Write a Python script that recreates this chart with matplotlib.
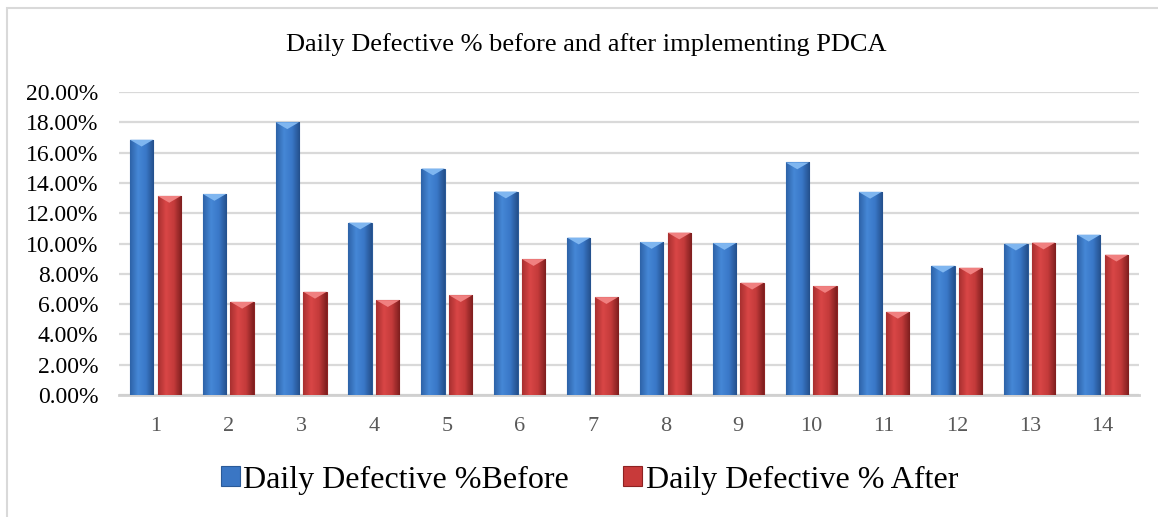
import numpy as np
import matplotlib
matplotlib.use("Agg")
import matplotlib.pyplot as plt
from matplotlib.patches import Rectangle
from matplotlib.colors import LinearSegmentedColormap
from matplotlib.ticker import FuncFormatter, MultipleLocator

plt.rcParams['font.family'] = ['Liberation Serif', 'DejaVu Serif']

# data (fractions)
days = [str(i) for i in range(1, 15)]
before = [0.1685, 0.1327, 0.1800, 0.1138, 0.1495, 0.1343, 0.1039, 0.1010,
          0.1003, 0.1535, 0.1341, 0.0853, 0.0999, 0.1058]
after = [0.1314, 0.0615, 0.0681, 0.0626, 0.0659, 0.0897, 0.0646, 0.1072,
         0.0741, 0.0719, 0.0549, 0.0840, 0.1006, 0.0926]

title = "Daily Defective % before and after implementing PDCA"
lab_before = "Daily Defective %Before"
lab_after = "Daily Defective % After"

fig = plt.figure(figsize=(11.58, 5.17), dpi=100)
ax = fig.add_axes([119/1158, 1-395/517, (1139-119)/1158, (395-92)/517])

x = np.arange(len(days))
w = 0.32
off = 0.19
b1 = ax.bar(x - off, before, w, color="#3a76c4", edgecolor="#2a5a98", lw=0.8, label=lab_before, zorder=3)
b2 = ax.bar(x + off, after, w, color="#c83a3a", edgecolor="#8e2222", lw=0.8, label=lab_after, zorder=3)

# shaded look on each bar
cm_blue = LinearSegmentedColormap.from_list("b", ["#2e63a8", "#4587d6", "#3a78c8", "#24508c"])
cm_red = LinearSegmentedColormap.from_list("r", ["#a83030", "#d94646", "#c43b3b", "#7e1e1e"])
grad = np.linspace(0, 1, 64).reshape(1, -1)
for bars, cm, top in ((b1, cm_blue, "#7fb6f0"), (b2, cm_red, "#f08080")):
    for p in bars:
        x0, y0 = p.get_x(), p.get_y()
        bw, bh = p.get_width(), p.get_height()
        im = ax.imshow(grad, cmap=cm, aspect="auto", extent=(x0, x0 + bw, y0, y0 + bh), zorder=3.5)
        im.set_clip_path(p)
        ax.fill([x0, x0 + bw, x0 + bw / 2], [y0 + bh, y0 + bh, y0 + bh - 0.0045],
                color=top, lw=0, zorder=4)

ax.set_xlim(-0.5, len(days) - 0.5)
ax.set_ylim(0, 0.2)
ax.yaxis.set_major_locator(MultipleLocator(0.02))
ax.yaxis.set_major_formatter(FuncFormatter(lambda v, p: f"{v*100:.2f}%"))
ax.set_xticks(x)
ax.set_xticklabels(days)
ax.grid(axis="y", color="#d9d9d9", lw=1.6, zorder=0)
ax.set_axisbelow(True)
for s in ["top", "right", "left"]:
    ax.spines[s].set_visible(False)
ax.spines["bottom"].set_color("#d0d0d0")
ax.spines["bottom"].set_linewidth(2)
ax.tick_params(length=0)
ax.tick_params(axis="y", labelsize=17, labelcolor="black", pad=15)
ax.tick_params(axis="x", labelsize=16, labelcolor="#595959", pad=16)

fig.text(0.506, 1-45/517, title, ha="center", va="center", fontsize=19)

fig.legend(handles=[b1, b2], loc="center", bbox_to_anchor=(0.509, 1-480/517), ncol=2,
           frameon=False, fontsize=23, handlelength=0.6, handleheight=0.6,
           handletextpad=0.1, columnspacing=1.7)

fig.patches.append(Rectangle((7/1158, -0.02), 1.05, 1-8/517+0.02, transform=fig.transFigure,
                             fill=False, edgecolor="#d9d9d9", lw=1.5))

fig.savefig("out.png", dpi=100)
